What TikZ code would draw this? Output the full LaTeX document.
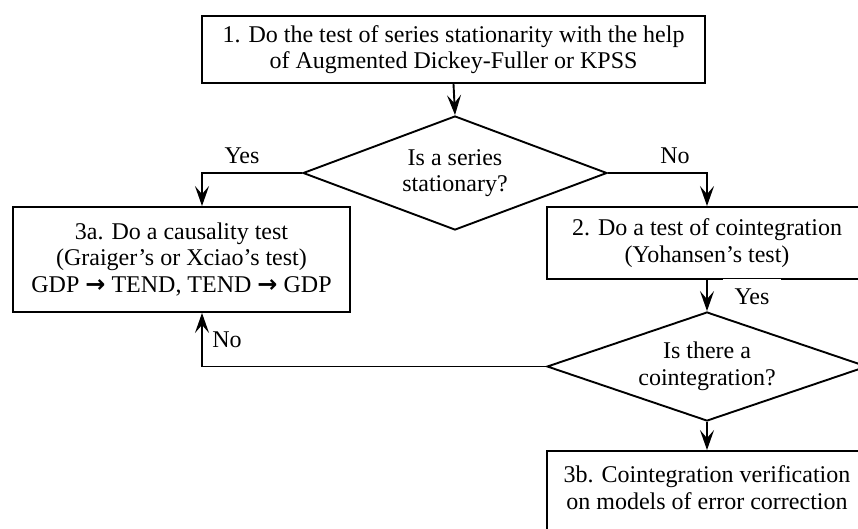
\documentclass[tikz,border=0pt]{standalone}
\usepackage{fontspec}
\setmainfont{Liberation Serif}
\newfontfamily\arrowFont{DejaVu Sans}
\usepackage{tikz}
\usetikzlibrary{positioning,shapes.geometric,arrows.meta}
\tikzstyle{pixelGrid} = [x = 1pt, y = -1pt, every node/.style={font=\fontsize{24}{26.5}\selectfont}]
\tikzstyle{stepBox} = [draw, line width=1.9pt, rectangle, align=center, inner sep=0pt]
\tikzstyle{decisionNode} = [draw, line width=1.9pt, diamond, inner sep=0pt]
\tikzstyle{flowArrow} = [line width=1.9pt, -{Stealth[length=20pt, width=14pt, inset=8pt]}]
\tikzstyle{branchLabel} = [inner sep=1pt]
\newcommand{\bigArrow}{{\arrowFont\bfseries →}}

\begin{document}
\begin{tikzpicture}[pixelGrid]
       \clip (0,0) rectangle (858,528);
       \fill[white] (0,0) rectangle (858,528);
       \node [stepBox, minimum width=503, minimum height=67] (step1) at (453.5,49.5) {1. Do the test of series stationarity with the help\\of Augmented Dickey-Fuller or KPSS};
       \node [decisionNode, minimum width=304, minimum height=114,
              label={[align=center]center:Is a series\\stationary?}] (isStationary) at (455,173) {};
       \node [stepBox, minimum width=337, minimum height=105] (step3a) at (181.5,259.5) {3a. Do a causality test\\(Graiger's or Xciao's test)\\GDP \bigArrow{} TEND, TEND \bigArrow{} GDP};
       \node [stepBox, minimum width=320, minimum height=72] (step2) at (707,243) {2. Do a test of cointegration\\(Yohansen's test)};
       \node [decisionNode, minimum width=320, minimum height=109,
              label={[align=center]center:Is there a\\cointegration?}] (isCointegrated) at (707,366.5) {};
       \node [stepBox, minimum width=320, minimum height=90] (step3b) at (707,496) {3b. Cointegration verification\\on models of error correction\\[-9.5pt]};

       \draw [flowArrow] (step1.south) -- (isStationary.north);
       \draw [flowArrow] (isStationary.west) -| ([xshift=20.5]step3a.north);
       \draw [flowArrow] (isStationary.east) -| (step2.north);
       \draw [flowArrow] (step2.south) -- (isCointegrated.north);
       \draw [flowArrow] (isCointegrated.south) -- (step3b.north);
       \draw [flowArrow] (isCointegrated.west) -| ([xshift=20.5]step3a.south);

       \node [branchLabel] (yesLeft) at (242,156) {Yes};
       \node [branchLabel] (noRight) at (675,156) {No};
       \node [branchLabel, fill=white, inner xsep=12pt, minimum height=37] (yesDown) at (752,297) {Yes};
       \node [branchLabel] (noBack) at (227,340) {No};
     \end{tikzpicture}
\end{document}
